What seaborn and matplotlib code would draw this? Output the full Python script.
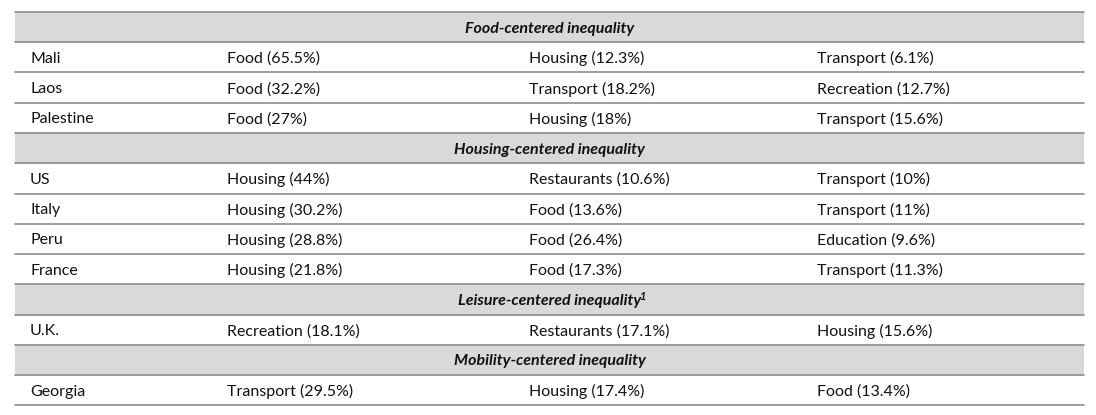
import matplotlib
matplotlib.use("Agg")
import matplotlib.pyplot as plt
import seaborn as sns

# Data
groups = ['Food-centered inequality', 'Housing-centered inequality',
          'Leisure-centered inequality', 'Mobility-centered inequality']
group_notes = ['', '', '1', '']
countries = [['Mali', 'Laos', 'Palestine'],
             ['US', 'Italy', 'Peru', 'France'],
             ['U.K.'],
             ['Georgia']]
first = [['Food (65.5%)', 'Food (32.2%)', 'Food (27%)'],
         ['Housing (44%)', 'Housing (30.2%)', 'Housing (28.8%)', 'Housing (21.8%)'],
         ['Recreation (18.1%)'],
         ['Transport (29.5%)']]
second = [['Housing (12.3%)', 'Transport (18.2%)', 'Housing (18%)'],
          ['Restaurants (10.6%)', 'Food (13.6%)', 'Food (26.4%)', 'Food (17.3%)'],
          ['Restaurants (17.1%)'],
          ['Housing (17.4%)']]
third = [['Transport (6.1%)', 'Recreation (12.7%)', 'Transport (15.6%)'],
         ['Transport (10%)', 'Transport (11%)', 'Education (9.6%)', 'Transport (11.3%)'],
         ['Housing (15.6%)'],
         ['Food (13.4%)']]

sns.set_theme(style="white")
plt.rcParams['font.family'] = ['Lato', 'DejaVu Sans']

fig = plt.figure(figsize=(10.96, 4.15), dpi=100)
ax = fig.add_axes([0, 0, 1, 1])
ax.set_xlim(0, 1096)
ax.set_ylim(415, 0)
ax.axis('off')

left, right = 15, 1084
top, row_h = 12, 30.25
col_x = [30, 227, 529, 817]
fs = 11.5
line_c = '#8c8c8c'
dy = 1.5  # nudge text down a bit

row = 0
for g, note, cs, a, b, c in zip(groups, group_notes, countries, first, second, third):
    y0 = top + row * row_h
    ax.fill_between([left, right], y0, y0 + row_h, color='#d9d9d9', lw=0, zorder=0)
    t = ax.text((left + right) / 2, y0 + row_h / 2 + dy, g, ha='center', va='center',
                fontsize=fs, fontweight='bold', fontstyle='italic', color='#111111')
    if note:
        ax.annotate(note, xy=(1, 0.8), xycoords=t, xytext=(-0.5, 0), textcoords='offset points',
                    fontsize=8, fontweight='bold', fontstyle='italic', color='#111111',
                    va='center', ha='left')
    row += 1
    for vals in zip(cs, a, b, c):
        y0 = top + row * row_h
        for x, v in zip(col_x, vals):
            ax.text(x, y0 + row_h / 2 + dy, v, ha='left', va='center', fontsize=fs, color='#111111')
        row += 1

for i in range(row + 1):
    y = top + i * row_h
    ax.plot([left, right], [y, y], color=line_c, lw=1.2, zorder=2)

fig.savefig('out.png', dpi=100, facecolor='white')
